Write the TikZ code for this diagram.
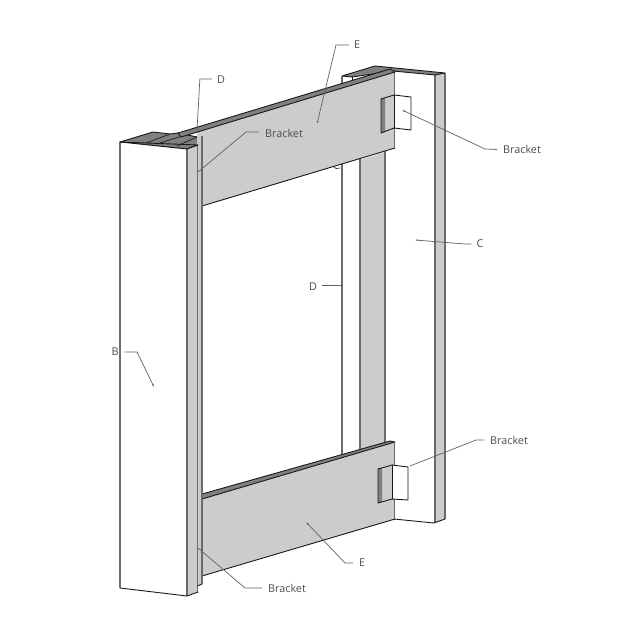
\documentclass[tikz,border=0pt]{standalone}
\usepackage{fontspec}
\setmainfont{Open Sans}
\usetikzlibrary{arrows.meta}
\definecolor{facegrey}{gray}{0.8}
\definecolor{topgrey}{gray}{0.5}
\definecolor{inkline}{gray}{0.1}
\definecolor{vertline}{gray}{0.42}
\definecolor{leadgrey}{gray}{0.38}
\tikzset{
  board/.style={draw=inkline,line width=0.9pt,line join=round},
  greyfill/.style={fill=facegrey},
  whitefill/.style={fill=white},
  topface/.style={board,fill=topgrey},
  edge/.style={draw=inkline,line width=0.9pt,line join=round,line cap=round},
  uprightline/.style={draw=vertline,line width=1.3pt},
  leader/.style={draw=leadgrey,line width=0.7pt},
  lbl/.style={font=\fontsize{10.8}{12}\selectfont,text=black!70,inner sep=0pt},
  tipped/.style={-{Latex[length=3pt,width=2pt]}},
}
\begin{document}
\begin{tikzpicture}[x=1pt,y=-1pt]
\useasboundingbox (0,0) rectangle (639,639);
% right post C
\path[greyfill] (435,75) -- (445,73) -- (445,519) -- (435,523) -- cycle;
\path[uprightline] (435,75) -- (435,523);
\path[uprightline] (445,73) -- (445,519);
\path[edge] (394,519) -- (434,523) -- (445,519);
\path[topface] (342,76) -- (375,66) -- (445,73) -- (435,75) -- (393,71) -- (352,77) -- cycle;
\path[uprightline] (342,76) -- (342,84);
\path[edge,line width=0.7pt] (352,77) -- (352,81);
% back upright D
\path[greyfill] (360,160) -- (385,152) -- (385,448) -- (360,455) -- cycle;
\path[uprightline] (342,160) -- (342,462);
\path[uprightline] (360,155) -- (360,457);
\path[uprightline] (385,148) -- (385,450);
\path[edge,line width=0.6pt] (333,166) .. controls (335,169) and (338,169) .. (340,168);
% upper cross board E
\path[greyfill] (197,131) -- (395,72) -- (395,148) -- (202,206) -- (197,206) -- cycle;
\path[edge] (202,206) -- (395,148);
\path[uprightline] (394.5,72) -- (394.5,148);
% lower cross board E
\path[greyfill] (202,499) -- (395,442) -- (395,519) -- (202,576) -- cycle;
\path[topface] (202,494) -- (390,441) -- (395,442) -- (202,499) -- cycle;
\path[edge] (202,576) -- (395,519);
\path[uprightline] (394.5,442) -- (394.5,519);
% left post B top faces
\path[topface] (120,142) -- (153,132) -- (170,134) -- (178,133) -- (197,137) -- (198,145) -- (187,149) -- cycle;
\path[edge,line width=0.7pt] (146,143) -- (170,134);
\path[edge,line width=0.7pt] (157,144) -- (182,136);
\path[edge,line width=0.7pt] (177,146) -- (197,137);
\path[topface] (178,133) -- (390,69) -- (395,72) -- (181,137) -- cycle;
% upright D by post B
\path[greyfill] (197,135) -- (202,136) -- (202,584) -- (197,586) -- cycle;
\path[uprightline] (202,136) -- (202,584);
% post B
\path[whitefill] (120,142) -- (187,149) -- (187,596) -- (120,588) -- cycle;
\path[greyfill] (187,149) -- (197,146) -- (197,592) -- (187,596) -- cycle;
\path[uprightline] (120,142) -- (120,588);
\path[uprightline] (187,149) -- (187,596);
\path[uprightline] (197.5,146) -- (197.5,592);
\path[edge] (120,588) -- (187,596) -- (198,592);
\path[edge] (197.5,586) -- (202,584);
\path[edge] (120,142) -- (187,149) -- (198,145);
\path[edge] (120,142) -- (198,145);
% upper bracket
\path[greyfill] (381,99) -- (394,95) -- (394,128) -- (381,133) -- cycle;
\path[fill=topgrey] (381,99) -- (385,98) -- (385,132) -- (381,133) -- cycle;
\path[whitefill] (394,95) -- (411,97) -- (411,130) -- (394,128) -- cycle;
\path[edge] (381,133) -- (381,99) -- (394,95) -- (411,97) -- (411,130) -- (394,128) -- cycle;
\path[edge] (394,95) -- (394,128);
% lower bracket
\path[greyfill] (378,469) -- (392,465) -- (392,499) -- (378,503) -- cycle;
\path[fill=topgrey] (378,469) -- (382,468) -- (382,502) -- (378,503) -- cycle;
\path[whitefill] (392,465) -- (408,467) -- (408,500) -- (392,499) -- cycle;
\path[edge] (378,503) -- (378,469) -- (392,465) -- (408,467) -- (408,500) -- (392,499) -- cycle;
\path[edge] (392,465) -- (392,499);
% labels
\node[lbl] (d1) at (221,79.5) {D};
\node[lbl] (e1) at (357,45) {E};
\node[lbl,anchor=west] (b1) at (265,133) {Bracket};
\node[lbl,anchor=west] (b2) at (503,149.5) {Bracket};
\node[lbl] (c1) at (480,244) {C};
\node[lbl] (d2) at (313,287) {D};
\node[lbl] (b0) at (115,352) {B};
\node[lbl,anchor=west] (b3) at (490,440) {Bracket};
\node[lbl] (e2) at (362,563) {E};
\node[lbl,anchor=west] (b4) at (268,588) {Bracket};
% leaders
\coordinate (t1) at (197,130);
\coordinate (t2) at (198,172);
\coordinate (t3) at (317,124);
\coordinate (t4) at (402,110);
\coordinate (t5) at (415,240);
\coordinate (t6) at (342,285);
\coordinate (t7) at (154,387);
\coordinate (t8) at (410,466);
\coordinate (t9) at (306,522);
\coordinate (t10) at (198,548);
\draw[leader] (d1.west) ++(-5,-0.5) -- ++(-12,0) -- (t1);
\draw[leader] (b1.west) ++(-6,-1) -- (246,132) -- (t2);
\draw[leader,tipped] (e1.west) ++(-5,0) -- (336,45) -- (t3);
\draw[leader,tipped] (b2.west) ++(-6,0) -- (485,149) -- (t4);
\draw[leader,tipped] (c1.west) ++(-5,0) -- (465,244) -- (t5);
\draw[leader] (d2.east) ++(5,-2) -- (t6);
\draw[leader,tipped] (b0.east) ++(6,0) -- (137,352) -- (t7);
\draw[leader] (b3.west) ++(-6,0) -- (476,440) -- (t8);
\draw[leader,tipped] (e2.west) ++(-6,0) -- (345,563) -- (t9);
\draw[leader] (b4.west) ++(-6,0) -- (245,588) -- (t10);
\end{tikzpicture}
\end{document}
